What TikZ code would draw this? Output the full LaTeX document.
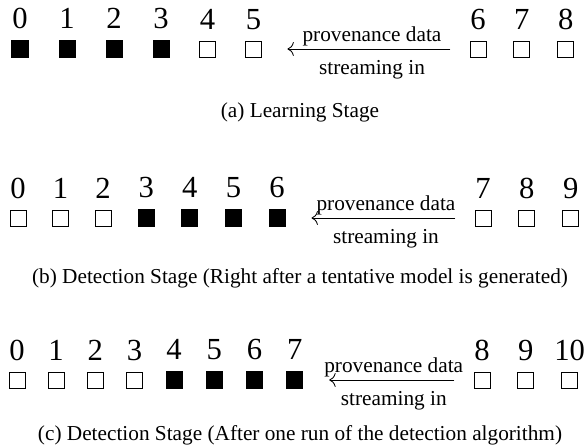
\documentclass[tikz,border=0pt]{standalone}
\usepackage{fontspec}
\setmainfont{Liberation Serif}
\usepackage{tikz}
\usetikzlibrary{arrows.meta, positioning}
\tikzset{
    emptycell/.style={
        rectangle,
        draw=black,
        line width=0.4pt,
        minimum size=7.5pt,
        inner sep=0pt
    },
    fullcell/.style={
        rectangle,
        fill=black,
        minimum size=8pt,
        inner sep=0pt
    },
    idx/.style={
        font=\Large,
        inner sep=2pt
    },
    flow/.style={
        draw=black,
        line width=0.4pt,
        -{Computer Modern Rightarrow[length=3pt, width=6.5pt]},
        shorten >=12pt,
        shorten <=9pt
    },
    flowtext/.style={
        font=\normalsize,
        inner sep=1pt
    },
    caption/.style={
        font=\normalsize
    }
}

\begin{document}
\begin{tikzpicture}[x=0.47pt, y=-0.47pt, label distance=3pt]
\useasboundingbox (0,0) rectangle (587,448);

% (a) Learning stage
\node[fullcell, label={[idx]above:0}] (a0) at (20,49) {};
\node[fullcell, right=13.7pt of a0, label={[idx]above:1}] (a1) {};
\node[fullcell, right=13.7pt of a1, label={[idx]above:2}] (a2) {};
\node[fullcell, right=13.7pt of a2, label={[idx]above:3}] (a3) {};
\node[emptycell, right=13.7pt of a3, label={[idx]above:4}] (a4) {};
\node[emptycell, right=13.7pt of a4, label={[idx]above:5}] (a5) {};
\node[emptycell, label={[idx]above:6}] (a6) at (478,49) {};
\node[emptycell, right=12.7pt of a6, label={[idx]above:7}] (a7) {};
\node[emptycell, right=12.7pt of a7, label={[idx]above:8}] (a8) {};
\draw[flow] (a6) -- node[flowtext, above, pos=0.47] {provenance data}
    node[flowtext, below=4pt, pos=0.47] {streaming in} (a5);
\node[caption] (capa) at (300,112) {(a) Learning Stage};

% (b) Detection stage, right after the model
\node[emptycell, label={[idx]above:0}] (b0) at (18,218) {};
\node[emptycell, right=12.1pt of b0, label={[idx]above:1}] (b1) {};
\node[emptycell, right=12.1pt of b1, label={[idx]above:2}] (b2) {};
\node[fullcell, right=12.1pt of b2, label={[idx]above:3}] (b3) {};
\node[fullcell, right=12.1pt of b3, label={[idx]above:4}] (b4) {};
\node[fullcell, right=12.1pt of b4, label={[idx]above:5}] (b5) {};
\node[fullcell, right=12.1pt of b5, label={[idx]above:6}] (b6) {};
\node[emptycell, label={[idx]above:7}] (b7) at (483,218) {};
\node[emptycell, right=12.7pt of b7, label={[idx]above:8}] (b8) {};
\node[emptycell, right=12.7pt of b8, label={[idx]above:9}] (b9) {};
\draw[flow] (b7) -- node[flowtext, above, pos=0.47] {provenance data}
    node[flowtext, below=4pt, pos=0.47] {streaming in} (b6);
\node[caption] (capb) at (300,278) {(b) Detection Stage (Right after a tentative model is generated)};

% (c) Detection stage, after one run
\node[emptycell, label={[idx]above:0}] (c0) at (17,380) {};
\node[emptycell, right=10.5pt of c0, label={[idx]above:1}] (c1) {};
\node[emptycell, right=10.5pt of c1, label={[idx]above:2}] (c2) {};
\node[emptycell, right=10.5pt of c2, label={[idx]above:3}] (c3) {};
\node[fullcell, right=10.5pt of c3, label={[idx]above:4}] (c4) {};
\node[fullcell, right=10.5pt of c4, label={[idx]above:5}] (c5) {};
\node[fullcell, right=10.5pt of c5, label={[idx]above:6}] (c6) {};
\node[fullcell, right=10.5pt of c6, label={[idx]above:7}] (c7) {};
\node[emptycell, label={[idx]above:8}] (c8) at (482,380) {};
\node[emptycell, right=12.7pt of c8, label={[idx]above:9}] (c9) {};
\node[emptycell, right=12.7pt of c9, label={[idx]above:10}] (c10) {};
\draw[flow] (c8) -- node[flowtext, above, pos=0.47] {provenance data}
    node[flowtext, below=4pt, pos=0.47] {streaming in} (c7);
\node[caption] (capc) at (300,435) {(c) Detection Stage (After one run of the detection algorithm)};

\end{tikzpicture}
\end{document}
